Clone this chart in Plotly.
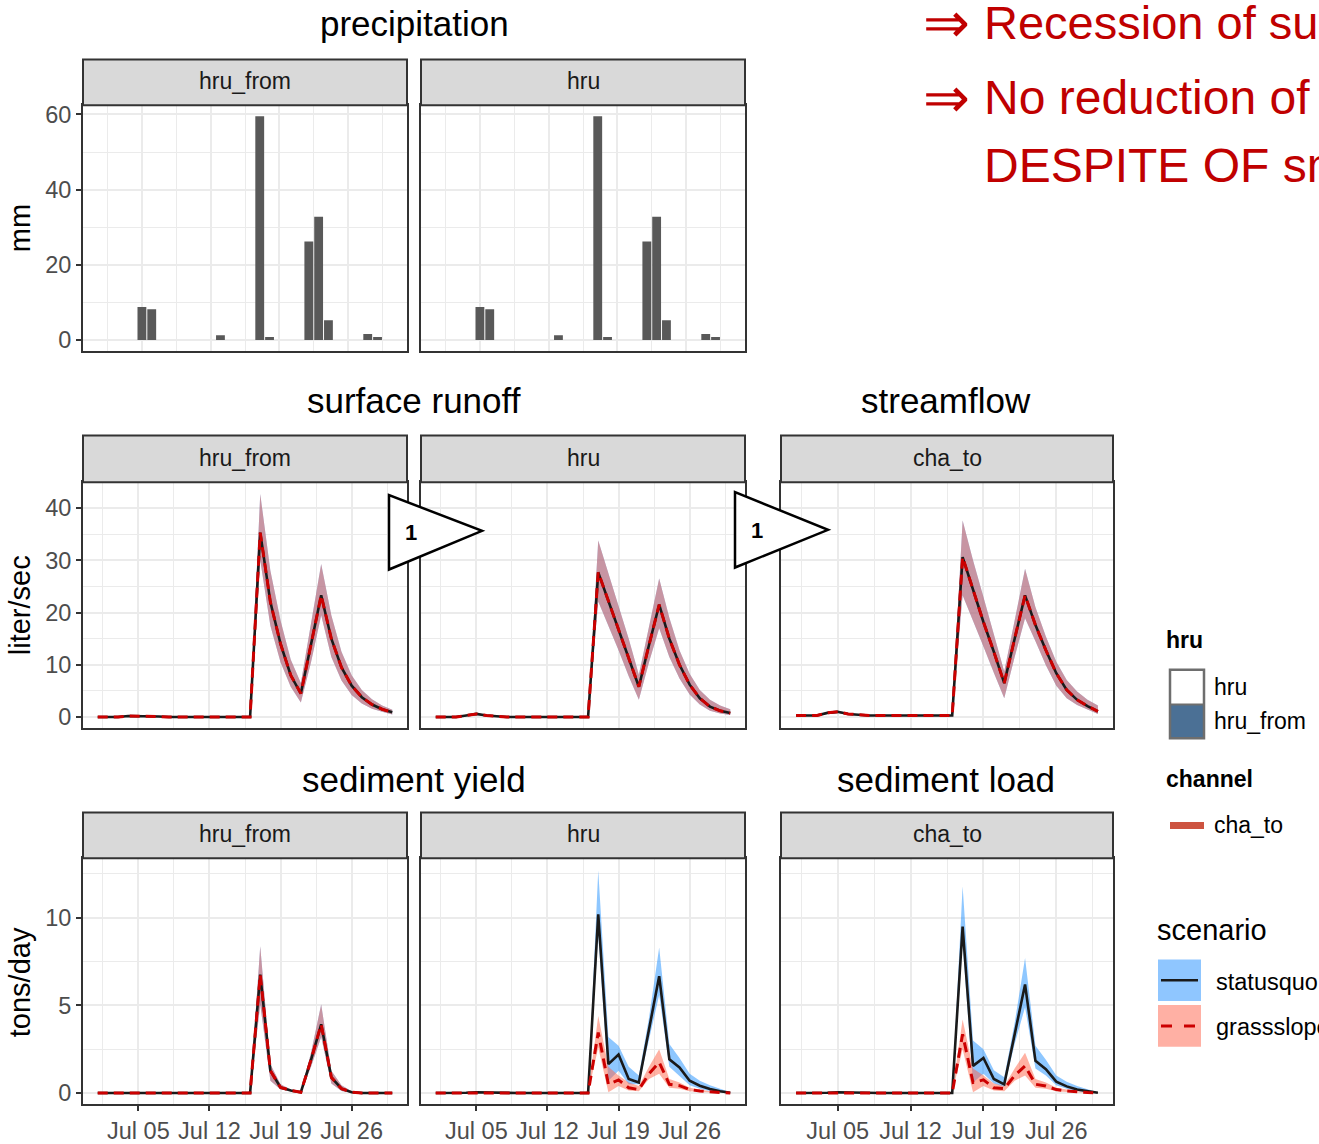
import pandas as pd
import plotly.graph_objects as go

W, H = 1319, 1144

# ---------------- data ----------------
days = pd.date_range("2020-07-01", "2020-07-30", freq="D")
precip_days = pd.date_range("2020-07-01", "2020-07-31", freq="D")

precip_mm = [0, 0, 0, 0, 8.8, 8.2, 0, 0, 0, 0, 0, 0, 1.3, 0, 0, 0, 59.5, 0.8, 0, 0,
             0, 26.2, 32.8, 5.3, 0, 0, 0, 1.6, 0.8, 0, 0]

# surface runoff hru_from (statusquo == grassslope)
runoff_hru_from_mid = [0, 0, 0, 0.2, 0.2, 0.1, 0.1, 0, 0, 0, 0, 0, 0, 0, 0,
                       0, 35.3, 22, 14, 8, 4.5, 14, 23.3, 15, 9.5, 6, 3.8, 2.4, 1.5, 0.9]
runoff_hru_from_hi = [0, 0, 0, 0.3, 0.3, 0.2, 0.1, 0, 0, 0, 0, 0, 0, 0, 0,
                      0, 42.7, 28, 18.5, 11, 6.5, 18, 29.3, 19.5, 12.5, 8, 5.2, 3.4, 2.2, 1.4]
runoff_hru_from_lo = [0, 0, 0, 0.1, 0.1, 0, 0, 0, 0, 0, 0, 0, 0, 0, 0,
                      0, 30, 17.5, 10.5, 5.8, 2.8, 10.5, 19.5, 11.5, 7, 4.2, 2.6, 1.6, 1, 0.5]

# surface runoff hru
runoff_hru_mid = [0, 0, 0, 0.3, 0.6, 0.3, 0.1, 0, 0, 0, 0, 0, 0, 0, 0,
                  0, 27.7, 22.3, 17, 11.3, 5.8, 13.8, 21.5, 15, 10, 6.2, 3.6, 2.0, 1.2, 0.76]
runoff_hru_hi = [0, 0, 0, 0.4, 0.8, 0.4, 0.15, 0, 0, 0, 0, 0, 0, 0, 0,
                 0, 33.8, 27.5, 21.5, 15, 8.1, 17.5, 26.5, 19, 12.8, 8.3, 5.2, 3.3, 2.2, 1.5]
runoff_hru_lo = [0, 0, 0, 0.2, 0.4, 0.2, 0.05, 0, 0, 0, 0, 0, 0, 0, 0,
                 0, 22.1, 17.5, 12.8, 7.8, 3.3, 10.5, 17, 11.5, 7.4, 4.3, 2.4, 1.2, 0.7, 0.4]

# streamflow cha_to
flow_cha_mid = [0.3, 0.3, 0.3, 0.8, 1.0, 0.6, 0.4, 0.3, 0.3, 0.3, 0.3, 0.3, 0.3, 0.3, 0.3,
                0.3, 30.6, 24.3, 18.2, 12.5, 6.5, 15, 23.3, 17.6, 12.8, 8.4, 5.2, 3.3, 2.1, 1.1]
flow_cha_hi = [0.4, 0.4, 0.4, 1.0, 1.2, 0.8, 0.5, 0.4, 0.4, 0.4, 0.4, 0.4, 0.4, 0.4, 0.4,
               0.4, 37.6, 30, 23, 16, 8.7, 18.5, 28.4, 21, 15.4, 10.6, 7.1, 4.9, 3.3, 2.2]
flow_cha_lo = [0.2, 0.2, 0.2, 0.6, 0.8, 0.4, 0.3, 0.2, 0.2, 0.2, 0.2, 0.2, 0.2, 0.2, 0.2,
               0.2, 23.3, 18.5, 13.5, 8.5, 3.6, 11.5, 18.9, 14.5, 9.9, 6, 3.6, 2.3, 1.4, 0.6]

# sediment yield hru_from (statusquo == grassslope)
sed_hru_from_mid = [0, 0, 0, 0.02, 0.03, 0.02, 0, 0, 0, 0, 0, 0, 0, 0, 0,
                    0, 6.76, 1.27, 0.32, 0.15, 0.05, 1.9, 3.92, 0.9, 0.25, 0.05, 0, 0, 0, 0]
sed_hru_from_hi = [0, 0, 0, 0.03, 0.04, 0.03, 0, 0, 0, 0, 0, 0, 0, 0, 0,
                   0, 8.37, 1.65, 0.5, 0.2, 0.08, 2.3, 5.06, 1.27, 0.45, 0.1, 0.02, 0, 0, 0]
sed_hru_from_lo = [0, 0, 0, 0.01, 0.02, 0.01, 0, 0, 0, 0, 0, 0, 0, 0, 0,
                   0, 5.06, 0.7, 0.2, 0.1, 0.02, 1.5, 3.2, 0.55, 0.12, 0.02, 0, 0, 0, 0]

# sediment yield hru
sed_hru_sq_mid = [0, 0, 0, 0.02, 0.05, 0.03, 0.01, 0, 0, 0, 0, 0, 0, 0, 0,
                  0, 10.2, 1.65, 2.2, 0.8, 0.6, 3.6, 6.67, 1.93, 1.46, 0.7, 0.42, 0.23, 0.1, 0.02]
sed_hru_sq_hi = [0, 0, 0, 0.03, 0.07, 0.04, 0.02, 0, 0, 0, 0, 0, 0, 0, 0,
                 0, 12.7, 3.2, 2.7, 1.5, 1.0, 4.3, 8.3, 2.8, 2.0, 1.1, 0.7, 0.45, 0.25, 0.05]
sed_hru_sq_lo = [0, 0, 0, 0.01, 0.03, 0.02, 0, 0, 0, 0, 0, 0, 0, 0, 0,
                 0, 9.0, 0.7, 1.27, 0.5, 0.5, 3.0, 5.6, 1.5, 1.0, 0.45, 0.25, 0.12, 0.05, 0]
sed_hru_gs_mid = [0, 0, 0, 0.01, 0.03, 0.02, 0, 0, 0, 0, 0, 0, 0, 0, 0,
                  0, 3.45, 0.5, 0.75, 0.3, 0.2, 1.1, 1.75, 0.5, 0.42, 0.2, 0.12, 0.06, 0.03, 0.01]
sed_hru_gs_hi = [0, 0, 0, 0.02, 0.04, 0.03, 0.01, 0, 0, 0, 0, 0, 0, 0, 0,
                 0, 4.4, 1.5, 1.0, 0.6, 0.4, 1.5, 2.5, 0.8, 0.6, 0.3, 0.2, 0.1, 0.05, 0.02]
sed_hru_gs_lo = [0, 0, 0, 0, 0.02, 0.01, 0, 0, 0, 0, 0, 0, 0, 0, 0,
                 0, 2.6, 0.05, 0.4, 0.15, 0.1, 0.8, 1.1, 0.3, 0.25, 0.1, 0.06, 0.03, 0.01, 0]

# sediment load cha_to
sed_cha_sq_mid = [0, 0, 0, 0.02, 0.05, 0.03, 0.01, 0, 0, 0, 0, 0, 0, 0, 0,
                  0, 9.5, 1.55, 2.0, 0.8, 0.5, 3.4, 6.2, 1.84, 1.36, 0.65, 0.38, 0.2, 0.1, 0.02]
sed_cha_sq_hi = [0, 0, 0, 0.03, 0.07, 0.04, 0.02, 0, 0, 0, 0, 0, 0, 0, 0,
                 0, 11.8, 3.0, 2.5, 1.3, 0.9, 4.0, 7.7, 2.7, 1.9, 1.0, 0.65, 0.4, 0.22, 0.05]
sed_cha_sq_lo = [0, 0, 0, 0.01, 0.03, 0.02, 0, 0, 0, 0, 0, 0, 0, 0, 0,
                 0, 8.5, 0.6, 1.1, 0.55, 0.35, 2.8, 4.9, 1.4, 1.0, 0.45, 0.25, 0.12, 0.05, 0]
sed_cha_gs_mid = [0, 0, 0, 0.01, 0.03, 0.02, 0, 0, 0, 0, 0, 0, 0, 0, 0,
                  0, 3.35, 0.6, 0.75, 0.3, 0.25, 1.0, 1.55, 0.5, 0.4, 0.2, 0.12, 0.06, 0.03, 0.01]
sed_cha_gs_hi = [0, 0, 0, 0.02, 0.04, 0.03, 0.01, 0, 0, 0, 0, 0, 0, 0, 0,
                 0, 4.2, 1.4, 1.0, 0.55, 0.4, 1.4, 2.3, 0.8, 0.6, 0.3, 0.2, 0.1, 0.05, 0.02]
sed_cha_gs_lo = [0, 0, 0, 0, 0.02, 0.01, 0, 0, 0, 0, 0, 0, 0, 0, 0,
                 0, 2.5, 0.05, 0.4, 0.15, 0.1, 0.7, 1.0, 0.3, 0.25, 0.1, 0.06, 0.03, 0.01, 0]

x_tick_vals = pd.to_datetime(["2020-07-05", "2020-07-12", "2020-07-19", "2020-07-26"])
x_tick_labels = ["Jul 05", "Jul 12", "Jul 19", "Jul 26"]
x_minor_vals = pd.to_datetime(["2020-07-01 12:00", "2020-07-08 12:00", "2020-07-15 12:00",
                               "2020-07-22 12:00", "2020-07-29 12:00"])

scenarios = ["statusquo", "grassslope"]
facet_labels = ["hru_from", "hru", "cha_to"]
panel_titles = ["precipitation", "surface runoff", "streamflow", "sediment yield", "sediment load"]
y_titles = ["mm", "liter/sec", "tons/day"]

# ---------------- style ----------------
FONT = "Liberation Sans"
GRID = "#ebebeb"
BORDER = "#333333"
TICKCOL = "#4d4d4d"
SQ_FILL = "rgba(30,144,255,0.5)"
GS_FILL = "rgba(255,99,71,0.5)"
SQ_LINE = "#1a1a1a"
GS_LINE = "#cc0000"


def fx(p):
    return p / W


def fy(p):
    return 1 - p / H


cols = [(83, 407), (421, 745), (781, 1113)]
rows = [(103, 351), (483, 731), (862, 1110)]

pad = pd.Timedelta(days=1.45)
line_range = [days[0] - pad, days[-1] + pad]
precip_range = [pd.Timestamp("2020-06-29"), pd.Timestamp("2020-08-01")]
y_ranges = [[-2.975, 62.475], [-2.14, 44.95], [-0.64, 13.4]]
y_major = [[0, 20, 40, 60], [0, 10, 20, 30, 40], [0, 5, 10]]
y_minor_dtick = [10, 5, 2.5]

fig = go.Figure()
layout_axes = {}

panels = [  # (axis index, row, col)
    (1, 0, 0), (2, 0, 1),
    (3, 1, 0), (4, 1, 1), (5, 1, 2),
    (6, 2, 0), (7, 2, 1), (8, 2, 2),
]

for idx, r, c in panels:
    xa = "xaxis" if idx == 1 else f"xaxis{idx}"
    ya = "yaxis" if idx == 1 else f"yaxis{idx}"
    xref = "x" if idx == 1 else f"x{idx}"
    yref = "y" if idx == 1 else f"y{idx}"
    bottom = (r == 2)
    left = (c == 0)
    layout_axes[xa] = dict(
        domain=[fx(cols[c][0]), fx(cols[c][1])], anchor=yref, type="date",
        range=precip_range if r == 0 else line_range,
        tickmode="array", tickvals=x_tick_vals, ticktext=x_tick_labels,
        showgrid=True, gridcolor=GRID, gridwidth=2.4,
        minor=dict(tickmode="array", tickvals=x_minor_vals, showgrid=True,
                   gridcolor=GRID, gridwidth=1.2, ticks=""),
        showline=True, mirror=True, linecolor=BORDER, linewidth=2,
        ticks="outside" if bottom else "", ticklen=5, tickwidth=1.5, tickcolor=BORDER,
        showticklabels=bottom, tickfont=dict(family=FONT, size=23.5, color=TICKCOL),
        zeroline=False, fixedrange=True,
    )
    layout_axes[ya] = dict(
        domain=[fy(rows[r][1]), fy(rows[r][0])], anchor=xref,
        range=y_ranges[r], tickmode="array", tickvals=y_major[r],
        ticktext=[str(v) for v in y_major[r]],
        showgrid=True, gridcolor=GRID, gridwidth=2.4,
        minor=dict(dtick=y_minor_dtick[r], tick0=0, showgrid=True,
                   gridcolor=GRID, gridwidth=1.2, ticks=""),
        showline=True, mirror=True, linecolor=BORDER, linewidth=2,
        ticks="outside" if left else "", ticklen=5, tickwidth=1.5, tickcolor=BORDER,
        showticklabels=left, tickfont=dict(family=FONT, size=23.5, color=TICKCOL),
        zeroline=False, fixedrange=True,
    )

# precipitation bars
for idx in (1, 2):
    fig.add_trace(go.Bar(
        x=precip_days, y=precip_mm, width=0.9 * 86400000,
        marker=dict(color="#595959", line=dict(width=0)),
        xaxis="x" if idx == 1 else f"x{idx}", yaxis="y" if idx == 1 else f"y{idx}",
        showlegend=False, hoverinfo="skip",
    ))


def add_ribbon(idx, lo, hi, color):
    xr, yr = f"x{idx}", f"y{idx}"
    fig.add_trace(go.Scatter(x=days, y=hi, mode="lines", line=dict(width=0, color=color),
                             xaxis=xr, yaxis=yr, showlegend=False, hoverinfo="skip"))
    fig.add_trace(go.Scatter(x=days, y=lo, mode="lines", line=dict(width=0, color=color),
                             fill="tonexty", fillcolor=color,
                             xaxis=xr, yaxis=yr, showlegend=False, hoverinfo="skip"))


def add_line(idx, y, scen):
    if scen == "statusquo":
        ln = dict(color=SQ_LINE, width=2.6)
    else:
        ln = dict(color=GS_LINE, width=3, dash="10px,6px")
    fig.add_trace(go.Scatter(x=days, y=y, mode="lines", line=ln, name=scen,
                             xaxis=f"x{idx}", yaxis=f"y{idx}", showlegend=False, hoverinfo="skip"))


line_panels = {
    3: ((runoff_hru_from_mid, runoff_hru_from_lo, runoff_hru_from_hi),
        (runoff_hru_from_mid, runoff_hru_from_lo, runoff_hru_from_hi)),
    4: ((runoff_hru_mid, runoff_hru_lo, runoff_hru_hi),
        (runoff_hru_mid, runoff_hru_lo, runoff_hru_hi)),
    5: ((flow_cha_mid, flow_cha_lo, flow_cha_hi),
        (flow_cha_mid, flow_cha_lo, flow_cha_hi)),
    6: ((sed_hru_from_mid, sed_hru_from_lo, sed_hru_from_hi),
        (sed_hru_from_mid, sed_hru_from_lo, sed_hru_from_hi)),
    7: ((sed_hru_sq_mid, sed_hru_sq_lo, sed_hru_sq_hi),
        (sed_hru_gs_mid, sed_hru_gs_lo, sed_hru_gs_hi)),
    8: ((sed_cha_sq_mid, sed_cha_sq_lo, sed_cha_sq_hi),
        (sed_cha_gs_mid, sed_cha_gs_lo, sed_cha_gs_hi)),
}

for idx, (sq, gs) in line_panels.items():
    add_ribbon(idx, sq[1], sq[2], SQ_FILL)
    add_ribbon(idx, gs[1], gs[2], GS_FILL)
    add_line(idx, sq[0], "statusquo")
    add_line(idx, gs[0], "grassslope")

shapes = []
annotations = []

# strips
strip_rows = [(57, 103), (436, 483), (816, 862)]
for idx, r, c in panels:
    y0, y1 = strip_rows[r]
    x0, x1 = cols[c]
    shapes.append(dict(type="rect", xref="paper", yref="paper",
                       x0=fx(x0), x1=fx(x1), y0=fy(y1), y1=fy(y0),
                       fillcolor="#d9d9d9", line=dict(color=BORDER, width=2), layer="above"))
    annotations.append(dict(text=facet_labels[c], xref="paper", yref="paper",
                            x=fx((x0 + x1) / 2), y=fy((y0 + y1) / 2 - 1),
                            showarrow=False, xanchor="center", yanchor="middle",
                            font=dict(family=FONT, size=23, color="#1a1a1a")))

# panel group titles
title_pos = [(414, 21), (414, 401), (946, 401), (414, 783), (946, 783)]
for t, (x, y) in zip(panel_titles, title_pos):
    annotations.append(dict(text=t, xref="paper", yref="paper", x=fx(x), y=fy(y),
                            showarrow=False, xanchor="center", yanchor="middle",
                            font=dict(family=FONT, size=35, color="black")))

# y axis titles
for t, y in zip(y_titles, (227, 607, 987)):
    annotations.append(dict(text=t, xref="paper", yref="paper", x=fx(20), y=fy(y),
                            showarrow=False, textangle=-90, xanchor="center", yanchor="middle",
                            font=dict(family=FONT, size=29, color="black")))

# triangles with "1"
for pts, tp in (([(389, 496), (389, 571), (482, 532)], (411, 534)),
                ([(735, 493), (735, 569), (828, 531)], (757, 532))):
    path = "M " + " L ".join(f"{fx(a)},{fy(b)}" for a, b in pts) + " Z"
    shapes.append(dict(type="path", xref="paper", yref="paper", path=path,
                       fillcolor="white", line=dict(color="black", width=2.5), layer="above"))
    annotations.append(dict(text="<b>1</b>", xref="paper", yref="paper", x=fx(tp[0]), y=fy(tp[1]),
                            showarrow=False, xanchor="center", yanchor="middle",
                            font=dict(family=FONT, size=22, color="black")))

# red message text (cut by the right edge, as in the original slide)
RED = "#c00000"
for txt, x, y, sz in (("⇒", 921, 20, 56), ("Recession of sur", 982, 20, 47),
                      ("⇒", 921, 95, 56), ("No reduction of", 982, 95, 48),
                      ("DESPITE OF sm", 982, 164, 48)):
    annotations.append(dict(text=txt, xref="paper", yref="paper", x=fx(x), y=fy(y),
                            showarrow=False, xanchor="left", yanchor="middle",
                            font=dict(family=FONT, size=sz, color=RED)))

# legends
def legtext(t, x, y, size=23, bold=False):
    annotations.append(dict(text=f"<b>{t}</b>" if bold else t, xref="paper", yref="paper",
                            x=fx(x), y=fy(y), showarrow=False, xanchor="left", yanchor="middle",
                            font=dict(family=FONT, size=size, color="black")))


def rect(x0, y0, x1, y1, fill, line_color=None, lw=0):
    shapes.append(dict(type="rect", xref="paper", yref="paper", x0=fx(x0), x1=fx(x1),
                       y0=fy(y1), y1=fy(y0), fillcolor=fill,
                       line=dict(color=line_color or fill, width=lw), layer="above"))


def seg(x0, x1, y, color, width, dash=None):
    ln = dict(color=color, width=width)
    if dash:
        ln["dash"] = dash
    shapes.append(dict(type="line", xref="paper", yref="paper", x0=fx(x0), x1=fx(x1),
                       y0=fy(y), y1=fy(y), line=ln, layer="above"))


legtext("hru", 1164, 642, 23, True)
rect(1170, 672, 1204, 707, "white")
rect(1170, 707, 1204, 741, "#4b7095")
rect(1170, 672, 1204, 741, "rgba(0,0,0,0)", "#6e6e6e", 2.5)
seg(1170, 1204, 707, "#6e6e6e", 2)
legtext("hru", 1212, 689)
legtext("hru_from", 1212, 724)

legtext("channel", 1164, 782, 23, True)
seg(1170, 1204, 829, "#cd5340", 7)
legtext("cha_to", 1212, 829)

legtext("scenario", 1155, 934, 29)
rect(1158, 964, 1201, 1006, "#8fc6ff")
seg(1161, 1198, 985, SQ_LINE, 2.6)
rect(1158, 1010, 1201, 1052, "#ffb0a4")
seg(1161, 1198, 1031, GS_LINE, 3, "11px,12px")
legtext("statusquo", 1214, 987, 23.5)
legtext("grassslope", 1214, 1032, 23.5)

fig.update_layout(
    width=W, height=H, margin=dict(l=0, r=0, t=0, b=0),
    paper_bgcolor="white", plot_bgcolor="white",
    showlegend=False, barmode="overlay", font=dict(family=FONT),
    shapes=shapes, annotations=annotations, **layout_axes,
)

fig.write_html("out.html")
